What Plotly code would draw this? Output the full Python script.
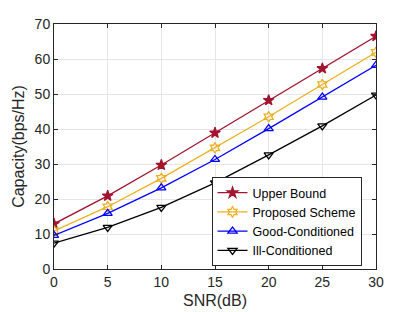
import plotly.graph_objects as go

snr = [0, 5, 10, 15, 20, 25, 30]
upper_bound = [12.9, 20.9, 29.7, 38.9, 48.2, 57.3, 66.5]
proposed = [10.9, 17.8, 25.9, 34.6, 43.5, 52.7, 61.9]
good_cond = [9.6, 15.9, 23.2, 31.3, 40.1, 49.1, 58.2]
ill_cond = [7.4, 11.9, 17.6, 24.6, 32.6, 40.9, 49.7]

series = [
    ("Upper Bound", upper_bound, "#A2142F", "star"),
    ("Proposed Scheme", proposed, "#EDB120", "hexagram-open"),
    ("Good-Conditioned", good_cond, "#0000FF", "triangle-up-open"),
    ("Ill-Conditioned", ill_cond, "#000000", "triangle-down-open"),
]

fig = go.Figure()
for name, vals, col, sym in series:
    fig.add_trace(go.Scatter(
        x=snr, y=vals, name=name, mode="lines+markers",
        line=dict(color=col, width=1.3),
        marker=dict(symbol=sym, size=8, color=col, line=dict(color=col, width=1.3)),
    ))

FONT = "Liberation Sans, Arial, sans-serif"
axis_common = dict(
    showline=True, linecolor="#262626", linewidth=1, mirror="ticks",
    ticks="inside", ticklen=4, tickcolor="#262626",
    showgrid=True, gridcolor="#E6E6E6", gridwidth=1, zeroline=False,
    automargin=False,
    tickfont=dict(family=FONT, size=14, color="#262626"),
)

fig.update_layout(
    width=415, height=312,
    margin=dict(l=54, r=39, t=24, b=43),
    paper_bgcolor="white", plot_bgcolor="white",
    font=dict(family=FONT, color="#262626"),
    xaxis=dict(range=[0, 30], tickvals=[0, 5, 10, 15, 20, 25, 30],
               title=dict(text="SNR(dB)", font=dict(size=16), standoff=6), **axis_common),
    yaxis=dict(range=[0, 70], tickvals=[0, 10, 20, 30, 40, 50, 60, 70],
               title=dict(text="Capacity(bps/Hz)", font=dict(size=16), standoff=6), **axis_common),
    legend=dict(x=0.955, y=0.012, xanchor="right", yanchor="bottom",
                bgcolor="white", bordercolor="#262626", borderwidth=1,
                font=dict(size=12.5, color="#000000"), tracegroupgap=0,
                itemwidth=30),
    showlegend=True,
)

fig.write_html("out.html", config={"displayModeBar": False},
               post_script="document.body.style.margin='0';")
